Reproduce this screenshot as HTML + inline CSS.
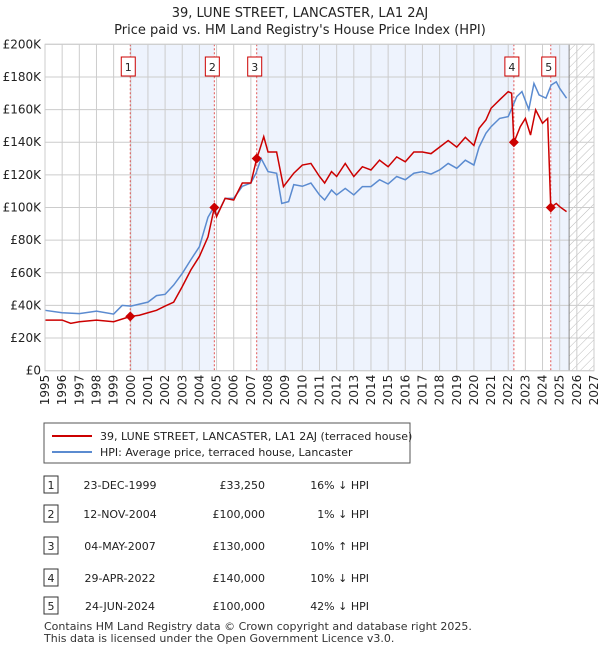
<!DOCTYPE html>
<html><head><meta charset="utf-8"><style>
body{margin:0;background:#fff;font-family:"DejaVu Sans","Liberation Sans",sans-serif;}
svg text{font-family:"DejaVu Sans","Liberation Sans",sans-serif;}
</style></head><body>
<svg id="c" width="600" height="650">
<defs><pattern id="hatch" width="6" height="6" patternUnits="userSpaceOnUse" patternTransform="rotate(45)"><line x1="0" y1="0" x2="0" y2="6" stroke="#bbb" stroke-width="1"/></pattern></defs>
<text x="300" y="17" text-anchor="middle" font-size="13" fill="#222">39, LUNE STREET, LANCASTER, LA1 2AJ</text>
<text x="300" y="34" text-anchor="middle" font-size="13" fill="#222">Price paid vs. HM Land Registry's House Price Index (HPI)</text>
<g id="plot"></g>
<rect x="44" y="423" width="366" height="40" fill="#fff" stroke="#555"/>
<line x1="52" y1="436" x2="92" y2="436" stroke="#cc0000" stroke-width="2"/>
<text x="100" y="440" font-size="11" fill="#222">39, LUNE STREET, LANCASTER, LA1 2AJ (terraced house)</text>
<line x1="52" y1="452" x2="92" y2="452" stroke="#5b8bd0" stroke-width="2"/>
<text x="100" y="456" font-size="11" fill="#222">HPI: Average price, terraced house, Lancaster</text>
<g id="table"></g>
<text x="44" y="630" font-size="11" fill="#333">Contains HM Land Registry data © Crown copyright and database right 2025.</text>
<text x="44" y="642" font-size="11" fill="#333">This data is licensed under the Open Government Licence v3.0.</text>
</svg>
<script>
const hpiYears=[1995,1996,1997,1998,1999,1999.5,2000,2001,2001.5,2002,2002.5,2003,2003.5,2004,2004.5,2004.8,2005,2005.5,2006,2006.5,2007,2007.3,2007.6,2008,2008.5,2008.8,2009.2,2009.5,2010,2010.5,2011,2011.3,2011.7,2012,2012.5,2013,2013.5,2014,2014.5,2015,2015.5,2016,2016.5,2017,2017.5,2018,2018.5,2019,2019.5,2020,2020.3,2020.7,2021,2021.5,2022,2022.5,2022.8,2023.2,2023.5,2023.8,2024.2,2024.5,2024.8,2025,2025.4];
const hpiValues=[37,35.5,35,36.5,34.7,40,39.6,42,46,46.8,52.5,59.6,68,76,94,99.5,95,105.6,105.6,113,115,121,130,122,121,102.5,103.6,114,113,115,107.7,104.6,110.7,107.7,111.7,107.7,112.8,112.8,117,114.4,119,117,121,122,120.5,123,127,124,129,126,137,145.5,149.5,154.6,155.7,168,171,160,176,169,167,175,177,173,167];
const priceYears=[1995,1996,1996.5,1997,1998,1999,1999.97,2000.5,2001,2001.5,2002,2002.5,2003,2003.5,2004,2004.5,2004.87,2005,2005.5,2006,2006.5,2007,2007.34,2007.5,2007.75,2008,2008.5,2008.9,2009.5,2010,2010.5,2011,2011.3,2011.7,2012,2012.5,2013,2013.5,2014,2014.5,2015,2015.5,2016,2016.5,2017,2017.5,2018,2018.5,2019,2019.5,2020,2020.3,2020.7,2021,2021.5,2022,2022.2,2022.33,2022.7,2023,2023.3,2023.6,2024,2024.3,2024.48,2024.8,2025,2025.4];
const priceValues=[31,31,29,30,31,30,33.25,34,35.5,37,39.6,42,51.5,61.7,70,82,100,94.4,105.6,104.6,115,115,130,135,143.4,134,134,112.8,121,126,127,119,115,122,119,127,119,125,123,129,125,131,128,134,134,133,137,141,137,143,138,148.5,153.6,160.8,166,171,170,139.7,149.5,154.6,144.4,159.8,151.6,154.6,100,102.5,100.5,97.5];
const saleYears=[1999.97,2004.87,2007.34,2022.33,2024.48];
const saleValues=[33.25,100,130,140,100];
const saleDates=["23-DEC-1999","12-NOV-2004","04-MAY-2007","29-APR-2022","24-JUN-2024"];
const salePrices=["£33,250","£100,000","£130,000","£140,000","£100,000"];
const saleDiffs=["16% ↓ HPI","1% ↓ HPI","10% ↑ HPI","10% ↓ HPI","42% ↓ HPI"];
const yTicks=[0,20,40,60,80,100,120,140,160,180,200];
const xTicks=[1995,1996,1997,1998,1999,2000,2001,2002,2003,2004,2005,2006,2007,2008,2009,2010,2011,2012,2013,2014,2015,2016,2017,2018,2019,2020,2021,2022,2023,2024,2025,2026,2027];
const X0=45,X1=594,Y0=370.7,Y1=44.3,XMIN=1995,XMAX=2027,DATAEND=2025.55;
const sx=y=>X0+(y-XMIN)/(XMAX-XMIN)*(X1-X0);
const sy=v=>Y0-v/200*(Y0-Y1);
const NS="http://www.w3.org/2000/svg";
const plot=document.getElementById('plot');
function mk(t,a,p){const e=document.createElementNS(NS,t);for(const k in a)e.setAttribute(k,a[k]);(p||plot).appendChild(e);return e;}
const bands=[[0,1],[2,3],[4,null]];
bands.forEach(b=>{const a=sx(saleYears[b[0]]),e=b[1]===null?sx(DATAEND):sx(saleYears[b[1]]);
const r=mk('rect',{x:a,y:Y1,width:e-a,height:Y0-Y1,fill:'#eef3fd'});

});
const h=mk('rect',{x:sx(DATAEND),y:Y1,width:X1-sx(DATAEND),height:Y0-Y1,fill:'url(#hatch)'});


yTicks.forEach(v=>{const l=mk('line',{x1:X0,x2:X1,y1:sy(v),y2:sy(v),stroke:'#ccc'});


const t=mk('text',{x:X0-4,y:sy(v)+4,'text-anchor':'end','font-size':'12',fill:'#222'});t.textContent=v===0?'£0':'£'+v+'K';

});
xTicks.forEach(y=>{const l=mk('line',{x1:sx(y),x2:sx(y),y1:Y1,y2:Y0,stroke:'#ccc'});


const t=mk('text',{x:0,y:0,'text-anchor':'end','font-size':'12',fill:'#222',transform:`translate(${sx(y)+4},${Y0+4}) rotate(-90)`});t.textContent=y;

});
const dl=mk('line',{x1:sx(DATAEND),x2:sx(DATAEND),y1:Y1,y2:Y0,stroke:'#888'});


saleYears.forEach((y,i)=>{const l=mk('line',{x1:sx(y),x2:sx(y),y1:Y1,y2:Y0,stroke:'#e05555','stroke-dasharray':'2,2'});


const r=mk('rect',{x:sx(y)-9,y:57,width:14,height:19,fill:'#fff',stroke:'#cc0000'});


const t=mk('text',{x:sx(y)-2,y:71,'text-anchor':'middle','font-size':'11',fill:'#222'});t.textContent=i+1;

});
const hp=mk('polyline',{points:hpiYears.map((y,i)=>sx(y)+','+sy(hpiValues[i])).join(' '),fill:'none',stroke:'#5b8bd0','stroke-width':1.5});


const pp=mk('polyline',{points:priceYears.map((y,i)=>sx(y)+','+sy(priceValues[i])).join(' '),fill:'none',stroke:'#cc0000','stroke-width':1.5});


saleYears.forEach((y,i)=>{const cx=sx(y),cy=sy(saleValues[i]);
const d=mk('polygon',{points:`${cx},${cy-5} ${cx+5},${cy} ${cx},${cy+5} ${cx-5},${cy}`,fill:'#cc0000'});

});
const bx=mk('rect',{x:X0,y:Y1,width:X1-X0,height:Y0-Y1,fill:'none',stroke:'#ccc'});


const tb=document.getElementById('table');
const rowsY=[487,516,548,580,608];
saleDates.forEach((d,i)=>{const y=rowsY[i];
const r=mk('rect',{x:44,y:y-11,width:14,height:17,fill:'#fff',stroke:'#333'},tb);


const cells=[[51,'middle',String(i+1)],[120,'middle',d],[265,'end',salePrices[i]],[369,'end',saleDiffs[i]]];
cells.forEach(c=>{const t=mk('text',{x:c[0],y:y+2,'text-anchor':c[1],'font-size':'11',fill:'#222'},tb);t.textContent=c[2];

});});
</script>
</body></html>
